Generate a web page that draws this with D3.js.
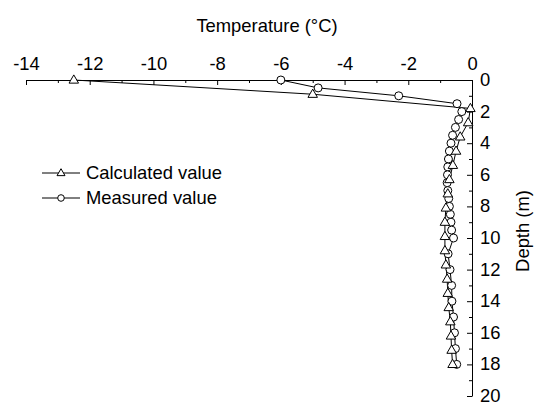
<!DOCTYPE html>
<html>
<head>
<meta charset="utf-8">
<script src="https://cdn.jsdelivr.net/npm/d3@7"></script>
<style>
  html, body { margin: 0; padding: 0; background: #fff; }
  svg { display: block; }
  text { font-family: "Liberation Sans", Arial, sans-serif; fill: #000; }
</style>
</head>
<body>
<svg id="chart" width="536" height="405"></svg>
<script>
// ---- data ----
const calcDepth = [0, 0.9, 1.8, 2.7, 3.6, 4.5, 5.4, 6.3, 7.2, 8.1, 9.0, 9.9, 10.8, 11.7, 12.6, 13.5, 14.4, 15.3, 16.2, 17.1, 18.0];
const calcTemp  = [-12.5, -5.0, -0.05, -0.12, -0.37, -0.5, -0.6, -0.71, -0.76, -0.82, -0.85, -0.85, -0.85, -0.82, -0.78, -0.76, -0.73, -0.68, -0.66, -0.64, -0.61];
const measDepth = [0, 0.5, 1, 1.5, 2, 2.5, 3, 3.5, 4, 4.5, 5, 5.5, 6, 6.5, 7, 7.5, 8, 8.5, 9, 9.5, 10, 11, 12, 13, 14, 15, 16, 17, 18];
const measTemp  = [-6.0, -4.83, -2.3, -0.47, -0.32, -0.42, -0.52, -0.61, -0.66, -0.71, -0.74, -0.76, -0.77, -0.78, -0.76, -0.73, -0.71, -0.68, -0.66, -0.64, -0.58, -0.75, -0.69, -0.64, -0.63, -0.58, -0.55, -0.52, -0.48];
const xTicks = [-14, -12, -10, -8, -6, -4, -2, 0];
const yTicks = [0, 2, 4, 6, 8, 10, 12, 14, 16, 18, 20];
const seriesNames = ["Calculated value", "Measured value"];

const svg = d3.select("#chart");
svg.append("rect").attr("width", 536).attr("height", 405).attr("fill", "#fff");

const x = d3.scaleLinear().domain([-14, 0]).range([26, 472]);
const y = d3.scaleLinear().domain([0, 20]).range([80, 396]);

const fs = 18.4;
const fmt = d => String(d);

// top axis (major)
svg.append("g").attr("transform", `translate(0,${y(0)})`)
  .call(d3.axisTop(x).tickValues(xTicks).tickSize(-5).tickSizeOuter(0).tickPadding(10).tickFormat(fmt));
// minor top ticks
svg.append("g").attr("transform", `translate(0,${y(0)})`)
  .call(d3.axisTop(x).tickValues(d3.range(-13, 0, 2)).tickSize(-3).tickSizeOuter(0).tickFormat(""))
  .call(g => g.select(".domain").remove());

// right axis
svg.append("g").attr("class", "yaxis").attr("transform", `translate(${x(0)},0)`)
  .call(d3.axisRight(y).tickValues(yTicks).tickSize(-5).tickSizeOuter(0).tickPadding(8).tickFormat(fmt));
svg.append("g").attr("transform", `translate(${x(0)},0)`)
  .call(d3.axisRight(y).tickValues(d3.range(1, 20, 2)).tickSize(-3).tickSizeOuter(0).tickFormat(""))
  .call(g => g.select(".domain").remove());

svg.selectAll(".domain, .tick line").attr("stroke", "#000").attr("stroke-width", 1);
svg.selectAll(".tick text").attr("font-size", fs).attr("font-family", "Liberation Sans, Arial, sans-serif").attr("fill", "#000");
svg.selectAll(".yaxis .tick text").attr("dy", "0.3em");

// axis titles
svg.append("text").attr("x", 267).attr("y", 32).attr("text-anchor", "middle")
  .attr("font-size", fs).text("Temperature (°C)");
svg.append("text").attr("transform", "translate(523,231) rotate(-90)")
  .attr("text-anchor", "middle").attr("dy", "0.35em")
  .attr("font-size", fs).text("Depth (m)");

// lines
const line = d3.line().x(d => x(d[0])).y(d => y(d[1]));
const calc = calcTemp.map((t, i) => [t, calcDepth[i]]);
const meas = measTemp.map((t, i) => [t, measDepth[i]]);

svg.append("path").datum(calc).attr("d", line).attr("fill", "none").attr("stroke", "#000").attr("stroke-width", 1);
svg.append("path").datum(meas).attr("d", line).attr("fill", "none").attr("stroke", "#000").attr("stroke-width", 1);

const triPath = (s) => {
  const h = s * Math.sqrt(3) / 2;
  return `M0,${-h * 0.62}L${s / 2},${h * 0.38}L${-s / 2},${h * 0.38}Z`;
};

svg.append("g").selectAll("circle").data(meas).join("circle")
  .attr("cx", d => x(d[0])).attr("cy", d => y(d[1])).attr("r", 4)
  .attr("fill", "#fff").attr("stroke", "#000").attr("stroke-width", 1);

svg.append("g").selectAll("path").data(calc).join("path")
  .attr("transform", d => `translate(${x(d[0])},${y(d[1])})`)
  .attr("d", triPath(9.5))
  .attr("fill", "#fff").attr("stroke", "#000").attr("stroke-width", 1);

// legend
const leg = svg.append("g");
const legY = [173, 198];
seriesNames.forEach((name, i) => {
  const g = leg.append("g").attr("transform", `translate(0,${legY[i]})`);
  g.append("line").attr("x1", 42).attr("x2", 80).attr("y1", 0).attr("y2", 0).attr("stroke", "#000").attr("stroke-width", 1);
  if (i === 0) {
    g.append("path").attr("transform", "translate(61,0)").attr("d", triPath(8))
      .attr("fill", "#fff").attr("stroke", "#000").attr("stroke-width", 1);
  } else {
    g.append("circle").attr("cx", 61).attr("cy", 0).attr("r", 3.3)
      .attr("fill", "#fff").attr("stroke", "#000").attr("stroke-width", 1);
  }
  g.append("text").attr("x", 86).attr("y", 0).attr("dy", "0.35em").attr("font-size", fs).text(name);
});
</script>
</body>
</html>
